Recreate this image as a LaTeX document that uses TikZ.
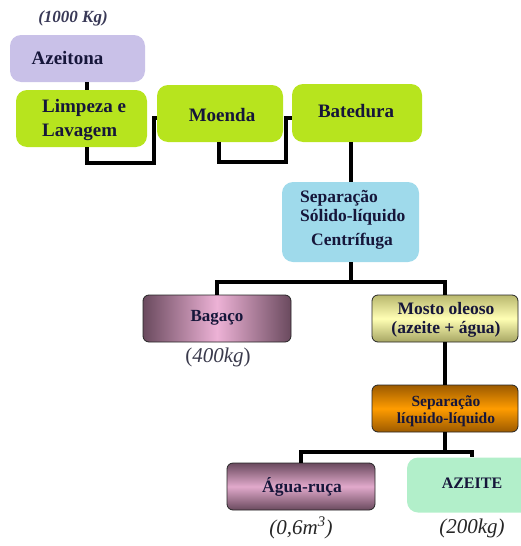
\documentclass[tikz,border=0pt]{standalone}
\usepackage{fontspec}
\setmainfont{Liberation Serif}
\usetikzlibrary{shadings}

\definecolor{ink}{HTML}{16163A}
\definecolor{lav}{HTML}{C9C1E8}
\definecolor{lime}{HTML}{B7E41E}
\definecolor{sky}{HTML}{9FDAEB}
\definecolor{mint}{HTML}{B2EFCA}
\definecolor{mauveD}{HTML}{6A4A5E}
\definecolor{mauveL}{HTML}{EDB2D6}
\definecolor{olive}{HTML}{B9B86E}
\definecolor{cream}{HTML}{FFFFB4}
\definecolor{rust}{HTML}{9C5A00}
\definecolor{amber}{HTML}{FF9C00}
\definecolor{note}{HTML}{3A3A4C}

\tikzset{
  pastel/.style={rounded corners=11pt, inner sep=0pt, draw=none},
  grad/.style={rounded corners=6pt, inner sep=0pt, draw=black!85, line width=0.8pt},
  conn/.style={line width=4pt, draw=black},
  lbl/.style={inner sep=0pt, text=ink, font=\fontsize{19}{24}\selectfont\bfseries},
  val/.style={inner sep=0pt, text=note, font=\fontsize{21}{24}\selectfont},
}

\begin{document}
\begin{tikzpicture}[x=1pt,y=-1pt]
\useasboundingbox (0,0) rectangle (520,546);

% input mass
\node[inner sep=0pt, text=ink!85, font=\fontsize{17}{20}\selectfont\bfseries\itshape] (kgin) at (73,18) {(1000 Kg)};

% boxes
\node[pastel, fill=lav,  minimum width=135pt, minimum height=47pt] (azeit)  at (77.5,58.5) {};
\node[pastel, fill=lime, minimum width=131pt, minimum height=57pt] (limp)   at (81.5,118.5) {};
\node[pastel, fill=lime, minimum width=126pt, minimum height=57pt] (moenda) at (220,113.5) {};
\node[pastel, fill=lime, minimum width=130pt, minimum height=58pt] (bated)  at (357,113) {};
\node[pastel, fill=sky,  minimum width=137pt, minimum height=80pt] (sepsl)  at (350.5,222) {};
\node[grad, left color=mauveD, right color=mauveD, middle color=mauveL,
      minimum width=148pt, minimum height=47pt] (bagaco) at (217,318.5) {};
\node[grad, top color=olive, bottom color=olive!90!black, middle color=cream,
      minimum width=146pt, minimum height=47pt] (mosto) at (445,318.5) {};
\node[grad, top color=rust, bottom color=rust, middle color=amber,
      minimum width=146pt, minimum height=47pt] (sepll) at (445,408.5) {};
\node[grad, top color=mauveD, bottom color=mauveD, middle color=mauveL!95!black,
      minimum width=148pt, minimum height=47pt] (agua) at (301,486.5) {};
\node[pastel, fill=mint, minimum width=130pt, minimum height=55pt] (azeite) at (472,485) {};

% box texts
\node[lbl] (tazeit) at (67.5,58) {Azeitona};
\node[lbl, anchor=west, align=left] (tlimp) at (42,120) {Limpeza e\\Lavagem};
\node[lbl] (tmoenda) at (222,115) {Moenda};
\node[lbl] (tbated) at (356,111) {Batedura};
\node[lbl, anchor=west, align=left, font=\fontsize{17.5}{19}\selectfont\bfseries] (tsep1) at (300,207.5) {Separação\\Sólido-líquido};
\node[lbl, font=\fontsize{17.5}{19}\selectfont\bfseries] (tsep2) at (352,241) {Centrífuga};
\node[lbl, font=\fontsize{17}{20}\selectfont\bfseries] (tbag) at (217,318) {Bagaço};
\node[lbl, align=center, font=\fontsize{17.5}{19.5}\selectfont\bfseries] (tmosto) at (446,320) {Mosto oleoso\\(azeite + água)};
\node[lbl, align=center, font=\fontsize{15.5}{16.5}\selectfont\bfseries] (tsepll) at (446,411) {Separação\\líquido-líquido};
\node[lbl, font=\fontsize{17.5}{20}\selectfont\bfseries] (tagua) at (302,487) {Água-ruça};
\node[lbl, font=\fontsize{16}{18}\selectfont\bfseries] (tazeite) at (472,483) {AZEITE};

% quantities
\node[val] (q400) at (218,357) {(\textit{400kg})};
\node[val, text=black!85] (q06) at (301,528) {\textit{(0,6m\textsuperscript{3})}};
\node[val, text=black!85] (q200) at (472,528) {\textit{(200kg)}};

% connectors
\draw[conn] ([xshift=9.5pt]azeit.south) -- ([xshift=9.5pt]azeit.south |- limp.north);
\draw[conn] ([xshift=5.5pt]limp.south) -- ++(0,16) -| ([xshift=-3pt,yshift=-4.5pt]moenda.west) -- ([yshift=-4.5pt]moenda.west);
\draw[conn] ([xshift=-1pt]moenda.south) -- ++(0,20) -| ([xshift=-6pt,yshift=-5pt]bated.west) -- ([yshift=-5pt]bated.west);
\draw[conn] (sepsl.north |- bated.south) -- (sepsl.north);

\coordinate (fork1) at ([yshift=-20pt]sepsl.south);
\draw[conn] (sepsl.south) -- (fork1);
\draw[conn] (bagaco.north) |- (fork1) -| (mosto.north);
\draw[conn] (mosto.south) -- (sepll.north);

\coordinate (fork2) at ([yshift=-20pt]sepll.south);
\draw[conn] (sepll.south) -- (fork2);
\draw[conn] (agua.north) |- (fork2) -| (azeite.north);
\end{tikzpicture}
\end{document}
